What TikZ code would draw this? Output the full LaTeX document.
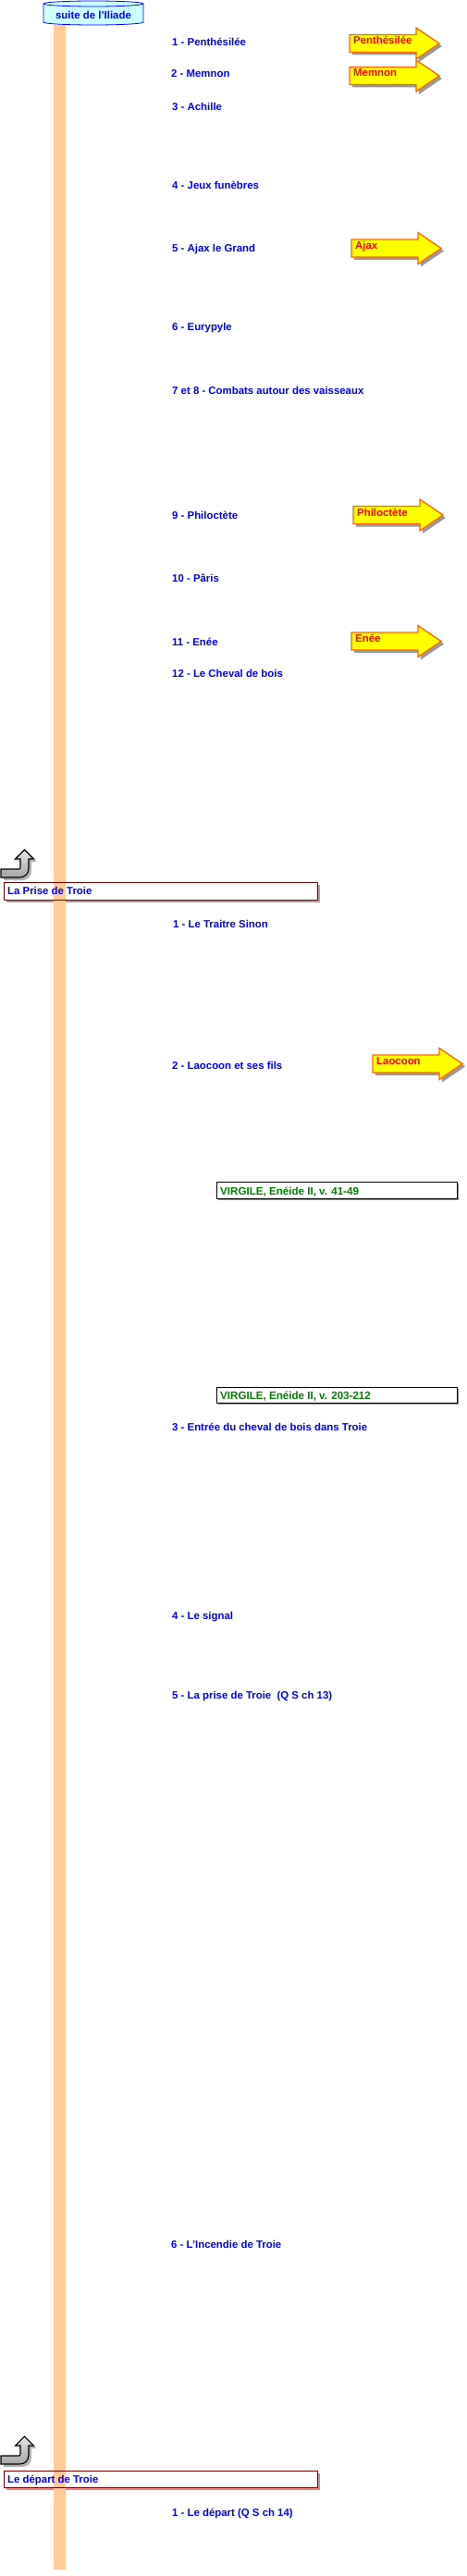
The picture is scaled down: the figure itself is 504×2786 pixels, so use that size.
\documentclass[tikz,border=0pt]{standalone}
\usepackage{fontspec}
\setmainfont{Liberation Sans}
\definecolor{barcol}{HTML}{FFCC99}
\definecolor{itemblue}{HTML}{0000FF}
\definecolor{arrowedge}{HTML}{FF6600}
\definecolor{arrowfill}{HTML}{FFFF00}
\definecolor{boxred}{HTML}{800000}
\definecolor{boxshadow}{HTML}{C49494}
\definecolor{virgreen}{HTML}{008000}
\definecolor{cylfill}{HTML}{CCFFFF}
\tikzset{
  itemtext/.style={anchor=base west, inner sep=0pt, text=itemblue, font=\bfseries\fontsize{11.4}{13}\selectfont},
  arrowtext/.style={anchor=base west, inner sep=0pt, text=red, font=\bfseries\fontsize{11.4}{13}\selectfont},
  virtext/.style={anchor=base west, inner sep=0pt, text=virgreen, font=\bfseries\fontsize{11.6}{13}\selectfont},
  arrowbody/.style={fill=arrowfill, draw=arrowedge, line width=1.3pt, line join=miter},
  arrowshadow/.style={fill=black!40},
  turnbody/.style={top color=gray!20, bottom color=gray!70, draw=black, line width=1.1pt, line join=miter},
  turnshadow/.style={fill=black!30},
  titlebox/.style={draw=boxred, line width=0.9pt},
  virbox/.style={draw=black, line width=1pt, fill=white},
}
% yellow arrow: name, left x, centre y, text
\newcommand\yelarrow[4]{%
  \begin{scope}[shift={(#2,-#3)}]
    \fill[arrowshadow] (3,6.5) -- (75,6.5) -- (75,14) -- (100,-3) -- (75,-20) -- (75,-12.5) -- (3,-12.5) -- cycle;
    \draw[arrowbody] (0,9.5) -- (72,9.5) -- (72,17) -- (97,0) -- (72,-17) -- (72,-9.5) -- (0,-9.5) -- cycle;
    \node[arrowtext] (#1) at (4,-1) {#4};
  \end{scope}}
% U-turn arrow: name, top y
\newcommand\uturn[2]{%
  \begin{scope}[shift={(0,-#2)}]
    \fill[turnshadow] (4,-33) -- (24,-33) .. controls (30,-33) and (34,-29) .. (34,-23) -- (34,-13) -- (39.5,-13) -- (29.5,-3) -- (19.5,-13) -- (25,-13) -- (25,-22) .. controls (25,-23.5) and (24,-24) .. (23,-24) -- (4,-24) -- cycle;
    \shade[turnbody] (1,-30) -- (21,-30) .. controls (27,-30) and (31,-26) .. (31,-20) -- (31,-10) -- (36.5,-10) -- (26.5,0) -- (16.5,-10) -- (22,-10) -- (22,-19) .. controls (22,-20.5) and (21,-21) .. (20,-21) -- (1,-21) -- cycle;
    \coordinate (#1) at (26.5,0);
  \end{scope}}
\begin{document}
\begin{tikzpicture}[x=1pt,y=1pt]
\useasboundingbox (0,0) rectangle (504,-2786);
\fill[white] (0,0) rectangle (504,-2786);

% title box shadows and fills (under the bar)
\fill[boxshadow] (7,-957) rectangle (346,-976);
\fill[white] (4,-954) rectangle (343,-973);
\fill[boxshadow] (7,-2675) rectangle (346,-2693);
\fill[white] (4,-2672) rectangle (343,-2690);

% vertical bar
\fill[barcol] (58,-27) rectangle (71,-2779);

% cylinder
\filldraw[fill=cylfill, draw=blue, line width=0.8pt] (47,-4) -- (47,-24) arc[start angle=180, end angle=360, x radius=54, y radius=3] -- (155,-4) arc[start angle=0, end angle=180, x radius=54, y radius=3] -- cycle;
\draw[blue, line width=0.8pt] (47,-4) arc[start angle=180, end angle=360, x radius=54, y radius=3];
\node[anchor=base, inner sep=0pt, text=itemblue, font=\bfseries\fontsize{11.4}{13}\selectfont] (iliade) at (101,-21) {suite de l'Iliade};

% items
\node[itemtext] (i1) at (186,-50) {1 - Penthésilée};
\node[itemtext] (i2) at (185,-84) {2 - Memnon};
\node[itemtext] (i3) at (186,-120) {3 - Achille};
\node[itemtext] (i4) at (186,-204) {4 - Jeux funèbres};
\node[itemtext] (i5) at (186,-272) {5 - Ajax le Grand};
\node[itemtext] (i6) at (186,-357) {6 - Eurypyle};
\node[itemtext] (i78) at (186,-426) {7 et 8 - Combats autour des vaisseaux};
\node[itemtext] (i9) at (186,-561) {9 - Philoctète};
\node[itemtext] (i10) at (186,-629) {10 - Pâris};
\node[itemtext] (i11) at (186,-698) {11 - Enée};
\node[itemtext] (i12) at (186,-732) {12 - Le Cheval de bois};

% yellow arrows
\yelarrow{aPenth}{378}{47}{Penthésilée}
\yelarrow{aMemnon}{378}{82}{Memnon}
\yelarrow{aAjax}{380}{268.5}{Ajax}
\yelarrow{aPhilo}{382}{557}{Philoctète}
\yelarrow{aEnee}{380}{693.5}{Enée}
\yelarrow{aLaoc}{403}{1150.5}{Laocoon}

% La Prise de Troie
\uturn{t1}{919}
\draw[titlebox] (4,-954) rectangle (343,-973);
\node[itemtext] (prise) at (8,-967.5) {La Prise de Troie};
\node[itemtext] (p1) at (187,-1003) {1 - Le Traitre Sinon};
\node[itemtext] (p2) at (186,-1156) {2 - Laocoon et ses fils};

\fill[black!45] (236,-1280) rectangle (496,-1298);
\draw[virbox] (234,-1278) rectangle (494,-1296);
\node[virtext] (v1) at (238,-1292) {VIRGILE, Enéide II, v. 41-49};

\fill[black!45] (236,-1502) rectangle (496,-1519);
\draw[virbox] (234,-1500) rectangle (494,-1517);
\node[virtext] (v2) at (238,-1513) {VIRGILE, Enéide II, v. 203-212};

\node[itemtext] (p3) at (186,-1547) {3 - Entrée du cheval de bois dans Troie};
\node[itemtext] (p4) at (186,-1751) {4 - Le signal};
\node[itemtext] (p5) at (186,-1837) {5 - La prise de Troie \ (Q S ch 13)};
\node[itemtext] (p6) at (185,-2431) {6 - L'Incendie de Troie};

% Le départ de Troie
\uturn{t2}{2635}
\draw[titlebox] (4,-2672) rectangle (343,-2690);
\node[itemtext] (depart) at (8,-2685) {Le départ de Troie};
\node[itemtext] (d1) at (186,-2721) {1 - Le départ (Q S ch 14)};
\end{tikzpicture}
\end{document}
